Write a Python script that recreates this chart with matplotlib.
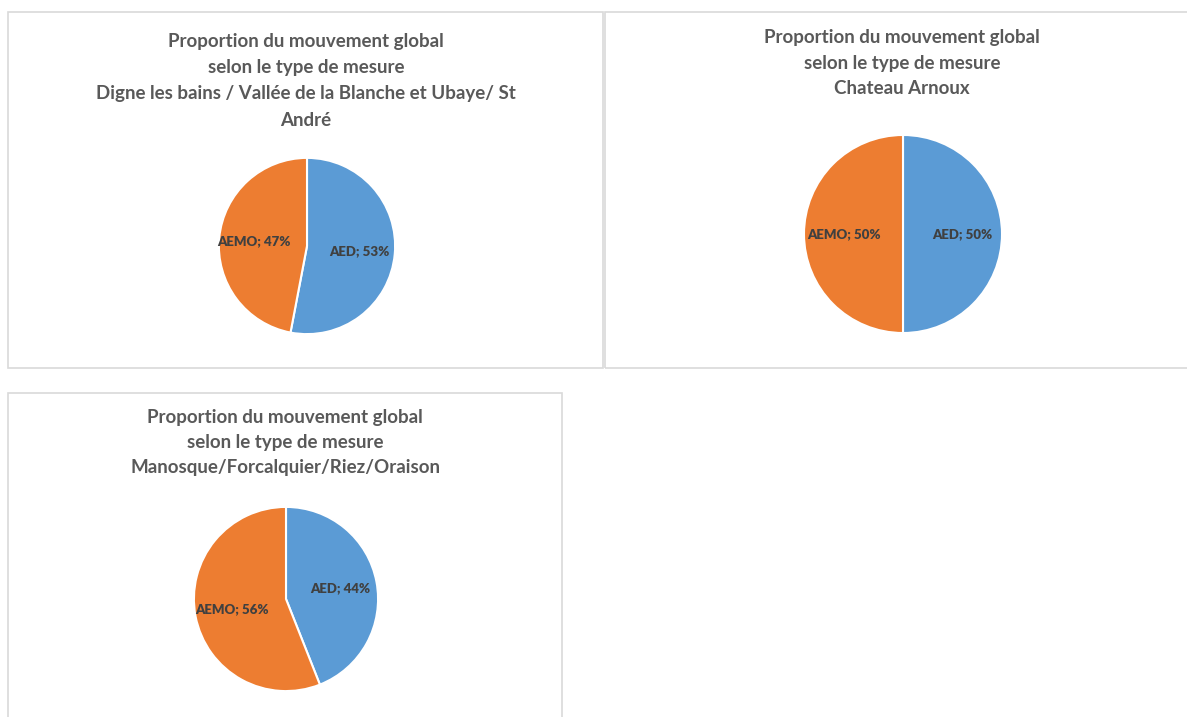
import matplotlib
matplotlib.use("Agg")
from matplotlib import pyplot as plt
from matplotlib.patches import Rectangle

# Data: share of the global movement by type of measure
categories = ["AED", "AEMO"]
digne_values = [53, 47]
chateau_values = [50, 50]
manosque_values = [44, 56]

title_common = ["Proportion du mouvement global", "selon le type de mesure"]
digne_place = ["Digne les bains / Vallée de la Blanche et Ubaye/ St", "André"]
chateau_place = ["Chateau Arnoux"]
manosque_place = ["Manosque/Forcalquier/Riez/Oraison"]

colors = ["#5B9BD5", "#ED7D31"]
W, H = 1187, 717

plt.rcParams["font.family"] = ["Lato", "DejaVu Sans"]
fig = plt.figure(figsize=(W / 100, H / 100), dpi=100)
fig.patch.set_facecolor("white")


def px_box(x0, y0, x1, y1):
    # pixel box (top-left origin) -> figure fraction rect
    return [x0 / W, 1 - y1 / H, (x1 - x0) / W, (y1 - y0) / H]


def panel(box, title_lines, title_x, title_y0, line_step, values, cx, cy, r):
    # border of the chart area
    b = px_box(*box)
    fig.patches.append(Rectangle((b[0], b[1]), b[2], b[3], transform=fig.transFigure,
                                 fill=False, edgecolor="#d9d9d9", linewidth=1.2))
    # title, one line at a time
    for i, line in enumerate(title_lines):
        fig.text(title_x / W, 1 - (title_y0 + i * line_step) / H, line,
                 ha="center", va="center", fontsize=13.5, fontweight="bold", color="#595959")
    # the pie itself
    ax = fig.add_axes(px_box(cx - r, cy - r, cx + r, cy + r))
    labels = ["%s; %d%%" % (c, v) for c, v in zip(categories, values)]
    wedges, texts = ax.pie(values, labels=labels, colors=colors, startangle=90,
                           counterclock=False, labeldistance=0.6,
                           wedgeprops=dict(edgecolor="white", linewidth=1.5),
                           textprops=dict(fontsize=9.5, fontweight="heavy", color="#404040"))
    for t in texts:
        t.set_ha("center")
        t.set_va("center")
    ax.set_xlim(-1.01, 1.01)
    ax.set_ylim(-1.01, 1.01)
    ax.set_aspect("equal")
    ax.axis("off")


panel((8, 12, 603, 368), title_common + digne_place, 306, 42, 26,
      digne_values, 307, 246, 89)
panel((605, 12, 1192, 368), title_common + chateau_place, 902, 38, 25,
      chateau_values, 903, 234, 100)
panel((8, 393, 562, 722), title_common + manosque_place, 285, 417, 25,
      manosque_values, 286, 599, 93)

plt.savefig("out.png", dpi=100, facecolor="white")
